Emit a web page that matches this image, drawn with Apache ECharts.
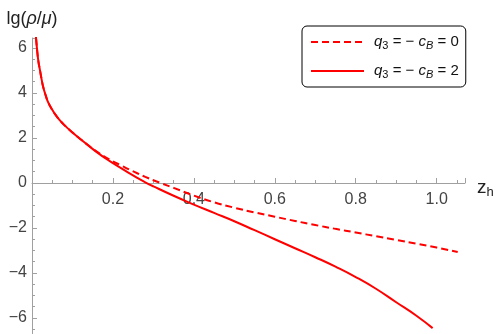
<!DOCTYPE html>
<html>
<head>
<meta charset="utf-8">
<script src="https://cdn.jsdelivr.net/npm/echarts@6/dist/echarts.min.js"></script>
<style>
  html, body { margin: 0; padding: 0; background: #fff; overflow: hidden; }
  /* taller than the window: the part below -6.7 is cut off by the viewport */
  #root { width: 500px; height: 363px; }
</style>
</head>
<body>
<div id="root"></div>
<script>
// values
var zDashed = [0.008, 0.01, 0.013, 0.016, 0.02, 0.024, 0.028, 0.034, 0.04, 0.05, 0.06, 0.07, 0.08, 0.1, 0.12, 0.14, 0.16, 0.18, 0.2, 0.22, 0.24, 0.26, 0.28, 0.3, 0.32, 0.35, 0.4, 0.45, 0.5, 0.55, 0.6, 0.65, 0.7, 0.75, 0.8, 0.85, 0.9, 0.95, 1.0, 1.052];
var yDashed = [6.9, 6.44, 5.84, 5.38, 4.98, 4.58, 4.24, 3.88, 3.58, 3.25, 2.98, 2.76, 2.57, 2.24, 1.94, 1.66, 1.39, 1.16, 0.96, 0.78, 0.6, 0.43, 0.27, 0.12, -0.02, -0.22, -0.56, -0.86, -1.1, -1.31, -1.5, -1.69, -1.87, -2.04, -2.2, -2.37, -2.53, -2.7, -2.87, -3.07];

var zSolid = [0.008, 0.01, 0.013, 0.016, 0.02, 0.024, 0.028, 0.034, 0.04, 0.05, 0.06, 0.07, 0.08, 0.1, 0.12, 0.14, 0.16, 0.18, 0.2, 0.22, 0.24, 0.26, 0.28, 0.3, 0.35, 0.4, 0.45, 0.5, 0.55, 0.6, 0.65, 0.7, 0.75, 0.8, 0.85, 0.9, 0.95, 0.99];
var ySolid = [6.9, 6.44, 5.84, 5.38, 4.98, 4.58, 4.24, 3.88, 3.58, 3.25, 2.98, 2.76, 2.57, 2.24, 1.94, 1.65, 1.37, 1.11, 0.88, 0.66, 0.44, 0.23, 0.03, -0.15, -0.57, -0.96, -1.33, -1.7, -2.1, -2.5, -2.9, -3.3, -3.72, -4.18, -4.7, -5.3, -5.9, -6.45];

var seriesNames = ['q3 = - cB = 0', 'q3 = - cB = 2'];
var legendTexts = ['{i|q}{s|3} = \u2212 {i|c}{si|B} = 0', '{i|q}{s|3} = \u2212 {i|c}{si|B} = 2'];

function pairs(xs, ys) {
  return xs.map(function (x, i) { return [x, ys[i]]; });
}

var chart = echarts.init(document.getElementById('root'), null, { renderer: 'canvas' });

var axisGray = '#a0a0a0';
var labelColor = '#444';
var font = '"Liberation Sans", Arial, sans-serif';

// grid: top 38, bottom at 363 -> y = 0 sits 180px above the grid bottom
var option = {
  animation: false,
  grid: { left: 32, right: 35, top: 38, bottom: 0, containLabel: false, outerBoundsMode: 'none' },
  xAxis: {
    type: 'value',
    min: 0,
    max: 1.07,
    interval: 0.2,
    position: 'bottom',
    offset: -180,
    name: '{z|z}{h|h}',
    nameLocation: 'end',
    nameGap: 12,
    nameTextStyle: {
      padding: [10, 0, 0, 0],
      rich: {
        z: { fontFamily: font, fontSize: 19, color: '#222' },
        h: { fontFamily: font, fontSize: 13, color: '#222', verticalAlign: 'bottom', padding: [9, 0, 0, 0] }
      }
    },
    axisLine: { onZero: false, lineStyle: { color: axisGray, width: 1 } },
    axisTick: { inside: true, length: 5, lineStyle: { color: axisGray } },
    minorTick: { show: true, splitNumber: 4, length: 3, lineStyle: { color: axisGray } },
    splitLine: { show: false },
    axisLabel: {
      color: labelColor, fontFamily: font, fontSize: 16, margin: 9,
      showMaxLabel: false,
      formatter: function (v) { return v === 0 ? '' : v.toFixed(1); }
    }
  },
  yAxis: {
    type: 'value',
    min: -8,
    max: 6.44,
    interval: 2,
    name: 'lg({i|\u03c1}/{i|\u03bc})',
    nameLocation: 'end',
    nameGap: 10,
    nameTextStyle: {
      fontFamily: font, fontSize: 18, color: '#222', align: 'center',
      rich: { i: { fontFamily: font, fontSize: 18, fontStyle: 'italic', color: '#222' } }
    },
    axisLine: { onZero: false, lineStyle: { color: axisGray, width: 1 } },
    axisTick: { inside: true, length: 5, lineStyle: { color: axisGray } },
    minorTick: { show: true, splitNumber: 4, length: 3, lineStyle: { color: axisGray } },
    splitLine: { show: false },
    axisLabel: {
      color: labelColor, fontFamily: font, fontSize: 16, margin: 5,
      showMaxLabel: false,
      formatter: function (v) { return v < -7 ? '' : String(v).replace('-', '\u2212'); }
    }
  },
  legend: {
    orient: 'vertical',
    left: 302,
    top: 26,
    backgroundColor: '#fff',
    borderColor: '#000',
    borderWidth: 1,
    borderRadius: 5,
    padding: [7, 7, 7, 8],
    itemWidth: 53,
    itemHeight: 14,
    itemGap: 11,
    data: seriesNames,
    itemStyle: { color: 'rgba(0,0,0,0)', borderWidth: 0, opacity: 0 },
    formatter: function (name) { return legendTexts[seriesNames.indexOf(name)]; },
    textStyle: {
      fontFamily: font, fontSize: 15, color: '#111', lineHeight: 18, padding: [0, 0, 0, 5],
      rich: {
        i: { fontFamily: font, fontSize: 15, fontStyle: 'italic', color: '#111' },
        s: { fontFamily: font, fontSize: 11, color: '#111', verticalAlign: 'bottom', padding: [6, 0, 0, 0] },
        si: { fontFamily: font, fontSize: 11, fontStyle: 'italic', color: '#111', verticalAlign: 'bottom', padding: [6, 0, 0, 0] }
      }
    }
  },
  series: [
    {
      name: seriesNames[0],
      type: 'line',
      data: pairs(zDashed, yDashed),
      smooth: true,
      symbol: 'none',
      clip: true,
      color: '#ff0000',
      lineStyle: { color: '#ff0000', width: 2, type: [7, 4] }
    },
    {
      name: seriesNames[1],
      type: 'line',
      data: pairs(zSolid, ySolid),
      smooth: true,
      symbol: 'none',
      clip: true,
      color: '#ff0000',
      lineStyle: { color: '#ff0000', width: 2 }
    }
  ]
};

chart.setOption(option);
</script>
</body>
</html>
